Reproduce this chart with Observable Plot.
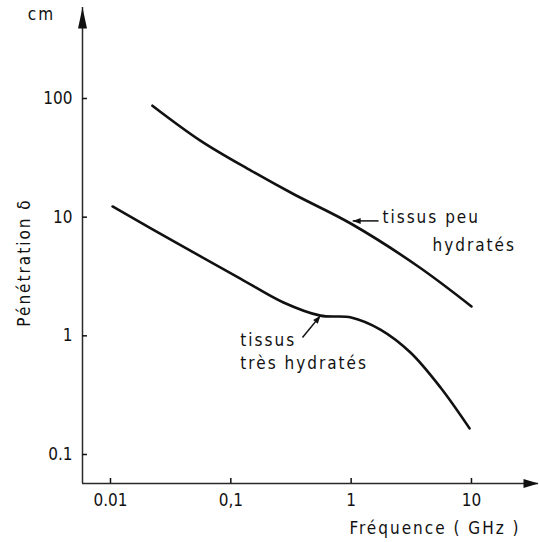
<!DOCTYPE html>
<html>
<head>
<meta charset="utf-8">
<script src="https://cdn.jsdelivr.net/npm/d3@7"></script>
<script src="https://cdn.jsdelivr.net/npm/@observablehq/plot@0.6"></script>
<style>
  html, body { margin: 0; padding: 0; background: #fff; }
  g[aria-label="text"] text { letter-spacing: 2px; }
</style>
</head>
<body>
<div id="chart"></div>
<script>
// Axes (log-log)
const xDomain = [0.005853, 36.06];
const yDomain = [0.05696, 584.6];
const xTicks = [0.01, 0.1, 1, 10];
const xTickLabels = ["0.01", "0,1", "1", "10"];
const yTicks = [0.1, 1, 10, 100];
const yTickLabels = ["0.1", "1", "10", "100"];

// Series: tissus peu hydratés
const freqPeu  = [0.0223, 0.0562, 0.147, 0.334, 1.0, 3.61, 10];
const deltaPeu = [87, 44, 24.7, 15.6, 8.8, 3.84, 1.77];

// Series: tissus très hydratés
const freqTres  = [0.0104, 0.036, 0.120, 0.274, 0.556, 1.0, 1.75, 3.11, 5.53, 9.64];
const deltaTres = [12.3, 6.0, 3.04, 1.91, 1.48, 1.43, 1.13, 0.724, 0.367, 0.166];

// Annotations
const labelText = ["tissus peu", "hydratés", "tissus", "très hydratés"];
const labelX = [1.82, 4.74, 0.120, 0.120];
const labelY = [10.0, 5.8, 0.92, 0.589];
const arrowX1 = [1.69, 0.394];
const arrowY1 = [9.3, 0.968];
const arrowX2 = [1.03, 0.556];
const arrowY2 = [9.3, 1.48];
const arrowRotate = [270, 39];

const ink = "#111";

const peu = freqPeu.map((f, i) => ({f, d: deltaPeu[i]}));
const tres = freqTres.map((f, i) => ({f, d: deltaTres[i]}));
const labels = labelText.map((t, i) => ({t, x: labelX[i], y: labelY[i]}));
const arrows = arrowX1.map((x1, i) => ({x1, y1: arrowY1[i], x2: arrowX2[i], y2: arrowY2[i], r: arrowRotate[i]}));

function head(len, half) {
  return {draw(ctx) { ctx.moveTo(0, 0); ctx.lineTo(half, len); ctx.lineTo(-half, len); ctx.closePath(); }};
}
const axisHeadUp = head(21, 4.5);
const axisHeadRight = head(15, 4.5);
const smallHead = head(8, 3);

const chart = Plot.plot({
  width: 539,
  height: 542,
  marginLeft: 82,
  marginRight: 1,
  marginTop: 7,
  marginBottom: 59,
  style: {
    fontFamily: '"DejaVu Sans Condensed", "DejaVu Sans", sans-serif',
    fontStretch: "condensed",
    fontSize: "17px",
    color: ink,
    background: "#fff"
  },
  x: {type: "log", domain: xDomain},
  y: {type: "log", domain: yDomain},
  marks: [
    Plot.ruleX([xDomain[0]], {stroke: "#2a2a2a", strokeWidth: 1.5}),
    Plot.ruleY([yDomain[0]], {stroke: "#2a2a2a", strokeWidth: 1.5}),
    Plot.dot([0], {x: () => xDomain[0], y: () => yDomain[1], symbol: axisHeadUp, fill: ink, stroke: "none"}),
    Plot.dot([0], {x: () => xDomain[1], y: () => yDomain[0], symbol: axisHeadRight, rotate: 90, fill: ink, stroke: "none"}),
    Plot.axisY(yTicks, {tickSize: 5, dx: 5, tickPadding: 10, label: null, strokeWidth: 1.5,
      tickFormat: d => yTickLabels[yTicks.indexOf(d)]}),
    Plot.axisX(xTicks, {tickSize: 5, dy: -5, tickPadding: 10, label: null, strokeWidth: 1.5,
      tickFormat: d => xTickLabels[xTicks.indexOf(d)]}),
    Plot.line(peu, {x: "f", y: "d", curve: "catmull-rom", stroke: ink, strokeWidth: 2.6}),
    Plot.line(tres, {x: "f", y: "d", curve: "catmull-rom", stroke: ink, strokeWidth: 2.6}),
    Plot.link(arrows, {x1: "x1", y1: "y1", x2: "x2", y2: "y2", stroke: ink, strokeWidth: 1.5}),
    Plot.dot(arrows, {x: "x2", y: "y2", rotate: "r", symbol: smallHead, fill: ink, stroke: "none"}),
    Plot.text(labels, {x: "x", y: "y", text: "t", textAnchor: "start", lineAnchor: "middle", fill: ink}),
    Plot.text(["cm"], {frameAnchor: "top-left", dx: -41, dy: 7, textAnchor: "middle", lineAnchor: "middle", fill: ink}),
    Plot.text(["Fréquence ( GHz )"], {frameAnchor: "bottom-right", dx: -18, dy: 45, textAnchor: "end", lineAnchor: "middle", fill: ink}),
    Plot.text(["Pénétration δ"], {frameAnchor: "left", dx: -58, dy: 17, rotate: -90, textAnchor: "middle", lineAnchor: "middle", fill: ink})
  ]
});
document.getElementById("chart").appendChild(chart);
</script>
</body>
</html>
